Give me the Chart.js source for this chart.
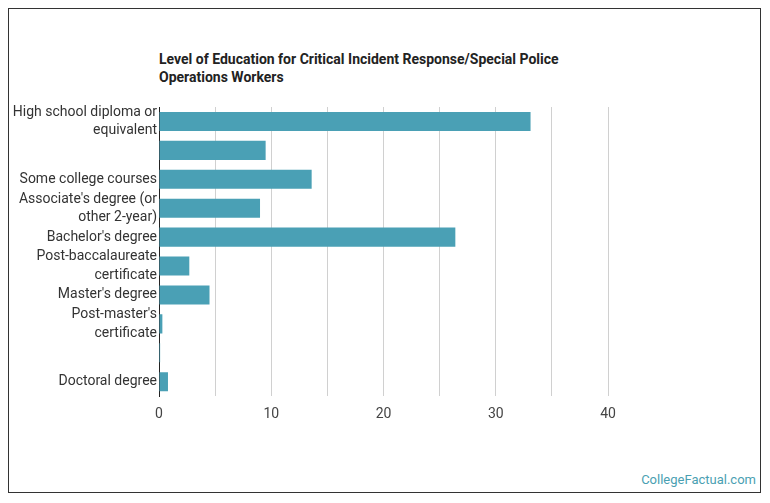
<!DOCTYPE html>
<html>
<head>
<meta charset="utf-8">
<script src="https://cdn.jsdelivr.net/npm/chart.js@4.4.1/dist/chart.umd.min.js"></script>
<style>
  html, body { margin: 0; padding: 0; background: #fff; }
  #wrap { position: relative; width: 770px; height: 503px; }
  #frame { position: absolute; left: 8px; top: 8px; width: 751px; height: 483px; border: 1px solid #333; box-sizing: content-box; }
  #title { position: absolute; left: 159px; top: 50px; font: bold 14px Roboto, sans-serif; color: #222; line-height: 18px; }
  #mark { position: absolute; right: 14px; top: 472px; font: 13px Roboto, sans-serif; color: #4a9fb2; }
  canvas { position: absolute; left: 0; top: 0; }
</style>
</head>
<body>
<div id="wrap">
  <div id="frame"></div>
  <div id="title">Level of Education for Critical Incident Response/Special Police<br>Operations Workers</div>
  <div id="mark">CollegeFactual.com</div>
  <canvas id="c" width="770" height="503"></canvas>
</div>
<script>
const categories = [
  ["High school diploma or", "equivalent"],
  "",
  "Some college courses",
  ["Associate's degree (or", "other 2-year)"],
  "Bachelor's degree",
  ["Post-baccalaureate", "certificate"],
  "Master's degree",
  ["Post-master's", "certificate"],
  "",
  "Doctoral degree"
];
const percentages = [33.1, 9.5, 13.6, 9.0, 26.4, 2.7, 4.5, 0.3, 0.1, 0.8];
const xTickMax = 40;
const xGridStep = 5;
const xLabelStep = 10;

new Chart(document.getElementById('c'), {
  type: 'bar',
  data: {
    labels: categories,
    datasets: [{
      data: percentages,
      backgroundColor: '#4aa0b5',
      borderWidth: 0,
      barPercentage: 0.66,
      categoryPercentage: 1.0
    }]
  },
  options: {
    indexAxis: 'y',
    responsive: false,
    animation: false,
    devicePixelRatio: 1,
    layout: { padding: { top: 107, bottom: 70, left: 0, right: 162 } },
    plugins: { legend: { display: false }, tooltip: { enabled: false }, title: { display: false } },
    scales: {
      x: {
        min: 0, max: xTickMax,
        grid: { color: '#d0d0d0', drawTicks: false, lineWidth: 1 },
        border: { display: false },
        ticks: {
          stepSize: xGridStep,
          padding: 10,
          color: '#444',
          font: { family: 'Roboto', size: 14 },
          callback: v => (v % xLabelStep === 0 ? v : '')
        }
      },
      y: {
        grid: { display: false, drawTicks: false },
        border: { display: true, color: '#222', width: 1 },
        afterFit: s => { s.width = 159; },
        ticks: {
          padding: 2,
          color: '#333',
          font: { family: 'Roboto', size: 14, lineHeight: 1.3 },
          autoSkip: false
        }
      }
    }
  }
});
</script>
</body>
</html>
